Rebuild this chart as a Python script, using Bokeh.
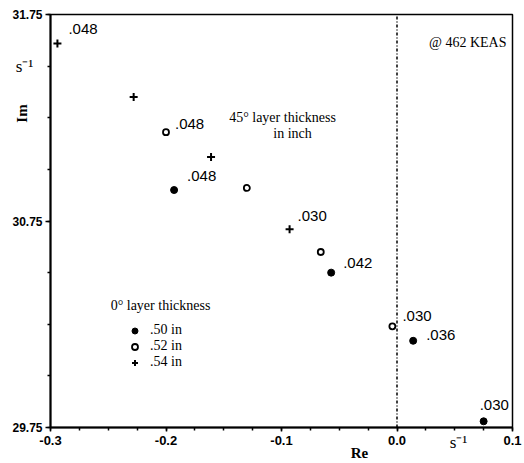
from bokeh.plotting import figure
from bokeh.models import (Range1d, FixedTicker, Label, ColumnDataSource,
                          Legend, LegendItem, LinearAxis)
from bokeh.core.properties import value
from bokeh.embed import file_html
from bokeh.resources import INLINE
from math import pi

# ---- data ----
re_50 = [-0.193, -0.057, 0.014, 0.075]
im_50 = [30.90, 30.50, 30.17, 29.78]
lab_50 = [".048", ".042", ".036", ".030"]

re_52 = [-0.200, -0.130, -0.066, -0.004]
im_52 = [31.18, 30.91, 30.60, 30.24]
lab_52 = [".048", "", "", ".030"]

re_54 = [-0.294, -0.228, -0.161, -0.093]
im_54 = [31.61, 31.35, 31.06, 30.71]
lab_54 = [".048", "", "", ".030"]

legend_labels = [".50 in", ".52 in", ".54 in"]
x_ticks = [-0.3, -0.2, -0.1, 0.0, 0.1]
y_ticks = [29.75, 30.75, 31.75]
X_LO, X_HI = -0.3, 0.1
Y_LO, Y_HI = 29.75, 31.75

# ---- layout (pixels) ----
W, H = 522, 461
LEFT, RIGHT, TOP, BOTTOM = 50, 512, 14, 427     # plot box in canvas pixels
kx = (RIGHT - LEFT) / (X_HI - X_LO)
ky = (BOTTOM - TOP) / (Y_HI - Y_LO)
x_start = X_LO - LEFT / kx
x_end = X_LO + (W - LEFT) / kx
y_end = Y_HI + TOP / ky
y_start = Y_HI - (H - TOP) / ky

def px(x):  # canvas px -> data x (for annotation placement)
    return X_LO + (x - LEFT) / kx

def py(y):
    return Y_HI - (y - TOP) / ky

# label offsets (pixels: right, down)
dx_50 = [13, 12, 13, -4]; dy_50 = [-14, -10, -6, -16]
dx_52 = [9, 0, 0, 10];    dy_52 = [-8, 0, 0, -10]
dx_54 = [11, 0, 0, 8];    dy_54 = [-14, 0, 0, -13]

SANS = "Liberation Sans"
SERIF = "Liberation Serif"

p = figure(frame_width=W, frame_height=H,
           x_range=Range1d(x_start, x_end), y_range=Range1d(y_start, y_end),
           output_backend="svg", toolbar_location=None,
           x_axis_location=None, y_axis_location=None,
           min_border_left=0, min_border_right=0,
           min_border_top=0, min_border_bottom=0)
p.background_fill_color = "white"
p.border_fill_color = "white"
p.grid.visible = False
p.outline_line_color = None

# plot box (top/right borders)
p.quad(left=[X_LO], right=[X_HI], bottom=[Y_LO], top=[Y_HI], fill_alpha=0,
       line_color="black", line_width=1.5)

# axes at fixed locations
xaxis = LinearAxis(fixed_location=Y_LO, bounds=(X_LO, X_HI),
                   ticker=FixedTicker(ticks=x_ticks,
                                      minor_ticks=[round(X_LO + 0.025 * i, 3) for i in range(17)]),
                   major_label_overrides={-0.3: "-0.3", -0.2: "-0.2", -0.1: "-0.1",
                                          0.0: "0.0", 0.1: "0.1"})
yaxis = LinearAxis(fixed_location=X_LO, bounds=(Y_LO, Y_HI),
                   ticker=FixedTicker(ticks=y_ticks,
                                      minor_ticks=[Y_LO + 0.25 * i for i in range(9)]),
                   major_label_overrides={29.75: "29.75", 30.75: "30.75", 31.75: "31.75"})
for ax in (xaxis, yaxis):
    ax.axis_line_width = 2
    ax.axis_line_color = "black"
    ax.major_tick_line_color = "black"
    ax.minor_tick_line_color = "black"
    ax.major_tick_line_width = 1.5
    ax.minor_tick_line_width = 1.5
    ax.major_label_text_font = SANS
    ax.major_label_text_font_style = "bold"
    ax.major_label_text_color = "black"
    ax.major_tick_in = 0
    ax.minor_tick_in = 0
xaxis.major_label_text_font_size = "13px"
yaxis.major_label_text_font_size = "12px"
xaxis.major_tick_out = 4
xaxis.minor_tick_out = 3
xaxis.major_label_standoff = 4
yaxis.major_tick_out = 5
yaxis.minor_tick_out = 3
yaxis.major_label_standoff = 3
p.add_layout(xaxis, "below")
p.add_layout(yaxis, "left")

# vertical dash-dot line at Re = 0
p.segment(x0=[0.0], y0=[Y_LO], x1=[0.0], y1=[Y_HI], line_color="black",
          line_width=1.5, line_dash="3 2 1 2")

# points
r50 = p.scatter(re_50, im_50, marker="circle", size=7, fill_color="black",
                line_color="black")
r52 = p.scatter(re_52, im_52, marker="circle", size=6, fill_color="white",
                line_color="black", line_width=1.8)
r54 = p.scatter(re_54, im_54, marker="cross", size=8, line_color="black",
                line_width=2)

# point labels
for xs, ys, labs, dxs, dys in ((re_50, im_50, lab_50, dx_50, dy_50),
                               (re_52, im_52, lab_52, dx_52, dy_52),
                               (re_54, im_54, lab_54, dx_54, dy_54)):
    src = ColumnDataSource(dict(x=xs, y=ys, t=labs, dx=dxs, dy=dys))
    p.text(x="x", y="y", text="t", x_offset="dx", y_offset="dy", source=src,
           text_font=value(SANS), text_font_size="15px",
           text_align="left", text_baseline="middle", text_color="black")

# legend (glyph centre at x=135 px, rows centred at 332/347/362 px)
leg = Legend(items=[LegendItem(label=legend_labels[0], renderers=[r50]),
                    LegendItem(label=legend_labels[1], renderers=[r52]),
                    LegendItem(label=legend_labels[2], renderers=[r54])],
             location=(127, H - 370), orientation="vertical",
             border_line_color=None, background_fill_alpha=0,
             padding=0, spacing=0, margin=0,
             glyph_width=15, glyph_height=15, label_height=15,
             label_standoff=8, label_text_font=SERIF,
             label_text_font_size="14px", label_text_color="black")
p.add_layout(leg)

def lab(text, x, y, font=SERIF, size="14px", style="normal", align="center",
        angle=0.0):
    p.add_layout(Label(x=px(x), y=py(y), text=text, text_font=font,
                       text_font_size=size, text_font_style=style,
                       text_align=align, text_baseline="middle",
                       text_color="black", angle=angle))

lab("0\u00b0 layer thickness", 160, 305)
lab("45\u00b0 layer thickness", 282, 117)
lab("in inch", 292, 133)
lab("@ 462 KEAS", 506, 42, size="14px", align="right")
lab("Im", 21, 113, size="15px", style="bold", angle=pi / 2)
lab("s\u207b\u00b9", 24, 66, size="17px")
lab("Re", 359, 452, size="15px", style="bold")
lab("s\u207b\u00b9", 458, 442, size="17px")

open("out.html", "w").write(file_html(p, INLINE))
